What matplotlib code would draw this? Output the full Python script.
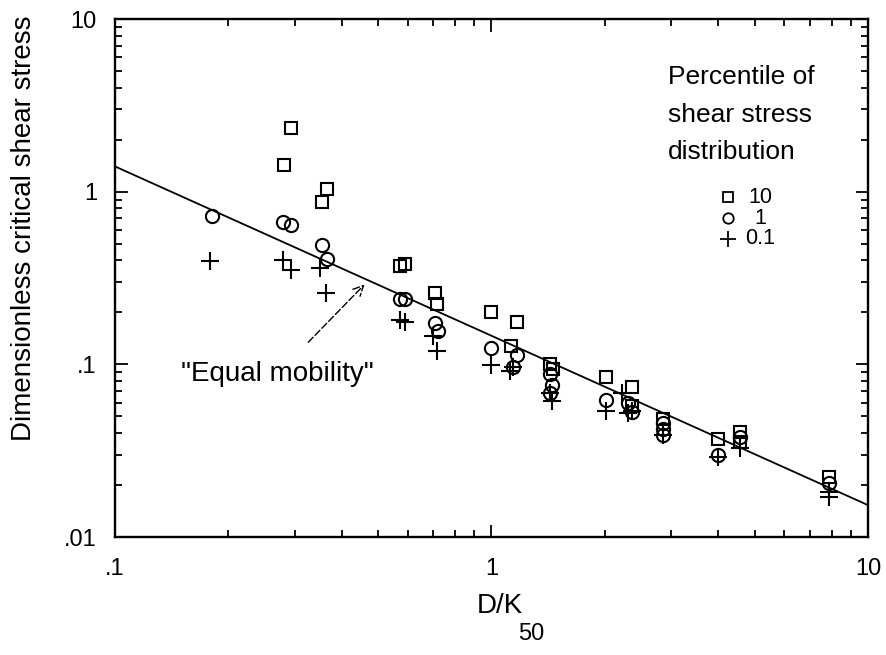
import matplotlib
matplotlib.use("Agg")
import matplotlib.pyplot as plt
from matplotlib.ticker import FixedLocator, FixedFormatter, LogLocator, NullFormatter

plt.rcParams['font.family'] = ['Liberation Sans', 'DejaVu Sans']

# 10th percentile of the shear stress distribution
sq_x = [0.294, 0.281, 0.365, 0.354, 0.57, 0.59, 0.708, 0.718, 1.0, 1.17, 1.13,
        1.43, 1.46, 2.02, 2.36, 2.36, 2.86, 4.0, 4.57, 4.57, 7.9]
sq_y = [2.35, 1.42, 1.04, 0.87, 0.37, 0.38, 0.258, 0.225, 0.2, 0.177, 0.128,
        0.101, 0.094, 0.084, 0.074, 0.057, 0.048, 0.037, 0.0407, 0.0357, 0.0222]

# 1st percentile
ci_x = [0.181, 0.28, 0.294, 0.354, 0.365, 0.57, 0.59, 0.71, 0.72, 1.0, 1.17,
        1.14, 1.43, 1.45, 1.43, 2.02, 2.3, 2.36, 2.86, 2.86, 2.86, 4.0, 4.57, 7.9]
ci_y = [0.72, 0.665, 0.645, 0.49, 0.41, 0.238, 0.24, 0.174, 0.155, 0.124, 0.113,
        0.097, 0.088, 0.076, 0.068, 0.062, 0.06, 0.053, 0.046, 0.042, 0.039, 0.030,
        0.038, 0.0205]

# 0.1 percentile
pl_x = [0.179, 0.28, 0.294, 0.35, 0.364, 0.57, 0.59, 0.70, 0.718, 1.0, 1.14,
        1.12, 1.43, 1.45, 2.02, 2.22, 2.3, 2.36, 2.86, 4.0, 4.57, 7.9, 7.9]
pl_y = [0.397, 0.403, 0.35, 0.36, 0.258, 0.18, 0.175, 0.145, 0.12, 0.099, 0.097,
        0.091, 0.068, 0.061, 0.054, 0.068, 0.052, 0.054, 0.039, 0.029, 0.0327,
        0.0183, 0.0171]

# equal mobility line
line_x = [0.1, 10]
line_y = [1.40, 0.0153]

legend_title = ["Percentile of", "shear stress", "distribution"]
legend_labels = ["10", "1", "0.1"]
x_ticks = [0.1, 1, 10]
x_ticklabels = [".1", "1", "10"]
y_ticks = [0.01, 0.1, 1, 10]
y_ticklabels = [".01", ".1", "1", "10"]

W, H = 887, 655
fig = plt.figure(figsize=(W / 100, H / 100), dpi=100)
L, R, T, B = 115, 868, 19, 537
ax = fig.add_axes([L / W, 1 - B / H, (R - L) / W, (B - T) / H])


def fx(px):
    return px / W


def fy(py):
    return 1 - py / H


ax.set_xscale('log')
ax.set_yscale('log')
ax.set_xlim(0.1, 10)
ax.set_ylim(0.01, 10)

ax.plot(line_x, line_y, color='black', lw=1.3)

mk = dict(linestyle='none', color='black', mfc='none', mew=1.5, clip_on=False)
ax.plot(sq_x, sq_y, marker='s', ms=9, **mk)
ax.plot(ci_x, ci_y, marker='o', ms=9.5, **mk)
ax.plot(pl_x, pl_y, marker='+', ms=13, **mk)

ax.xaxis.set_major_locator(FixedLocator(x_ticks))
ax.xaxis.set_major_formatter(FixedFormatter(x_ticklabels))
ax.yaxis.set_major_locator(FixedLocator(y_ticks))
ax.yaxis.set_major_formatter(FixedFormatter(y_ticklabels))
for axis in (ax.xaxis, ax.yaxis):
    axis.set_minor_locator(LogLocator(base=10, subs=range(2, 10)))
    axis.set_minor_formatter(NullFormatter())

ax.tick_params(which='both', direction='in', top=True, right=True,
               width=1.3, labelsize=17)
ax.tick_params(axis='x', pad=15)
ax.tick_params(axis='y', pad=13)
ax.tick_params(which='major', length=9)
ax.tick_params(which='minor', length=5)
for s in ax.spines.values():
    s.set_linewidth(1.7)

# axis titles
fig.text(fx(24), fy(228), "Dimensionless critical shear stress", fontsize=20,
         rotation=90, ha='center', va='center')
fig.text(fx(500), fy(606), "D/K", fontsize=20, ha='center', va='center')
fig.text(fx(531), fy(634), "50", fontsize=17, ha='center', va='center')

ax.annotate('"Equal mobility"', xy=(0.46, 0.29), xytext=(0.27, 0.088),
            textcoords='data', fontsize=20, ha='center', va='center',
            arrowprops=dict(arrowstyle='->', color='black', lw=1.0,
                            linestyle=(0, (5, 2)), shrinkA=16, shrinkB=0,
                            mutation_scale=18))

# legend block
for py, line in zip([77, 115, 152], legend_title):
    fig.text(fx(668), fy(py), line, fontsize=19, ha='left', va='center')
leg_m = [('s', 7), ('o', 7.5), ('+', 11)]
for py, (m, s), lab in zip([197, 218, 239], leg_m, legend_labels):
    ax.plot([fx(728)], [fy(py)], marker=m, ms=s, color='black', mfc='none',
            mew=1.3, transform=fig.transFigure, linestyle='none')
    fig.text(fx(760), fy(py), lab, fontsize=15.5, ha='center', va='center')

fig.savefig("out.png", dpi=100)
